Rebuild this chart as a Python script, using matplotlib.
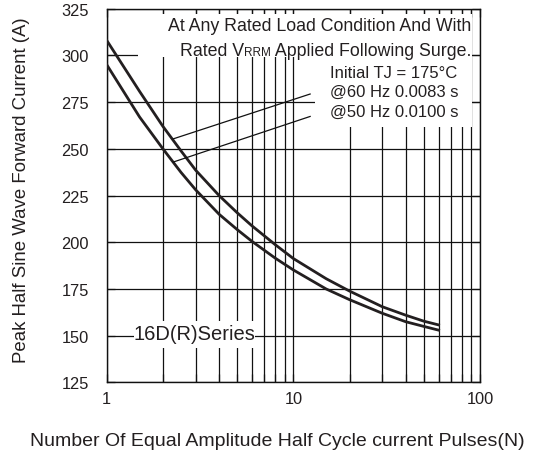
import matplotlib
matplotlib.use("Agg")
import matplotlib.pyplot as plt
from matplotlib.patches import Rectangle
from matplotlib.transforms import blended_transform_factory, IdentityTransform

plt.rcParams["font.family"] = ["Liberation Sans", "DejaVu Sans"]

# surge pulses N and peak forward current (A)
pulses = [1, 1.5, 2, 2.5, 3, 4, 5, 6, 8, 10, 15, 20, 30, 40, 50, 60]
amps_upper = [308, 280.7, 262, 248.9, 238.5, 225, 215.8, 208.8, 198.7, 191.3,
              180.5, 173.9, 165.5, 161, 157.8, 155.8]
amps_lower = [295, 267, 250, 237.4, 228, 215, 206.8, 200.5, 191.5, 185.2,
              175, 169.3, 162, 157.5, 155, 153]

# leader lines from the curves to the note
leader_n = [2.27, 12.3]
leader_60 = [255.3, 279.3]
leader_50 = [242.9, 267.3]

yticks = [125, 150, 175, 200, 225, 250, 275, 300, 325]
xticks = [1, 10, 100]
xticklabels = ["1", "10", "100"]

ink = "#231f20"
grid_c = "#111111"

fig = plt.figure(figsize=(5.42, 4.56), dpi=100)
ax = fig.add_axes([0.1969, 0.159, 0.6887, 0.820])

ax.set_xscale("log")
ax.set_xlim(1, 100)
ax.set_ylim(125, 325)
ax.set_yticks(yticks)
ax.set_xticks(xticks)
ax.set_xticklabels(xticklabels)

ax.grid(which="both", axis="x", color=grid_c, lw=0.9)
ax.grid(which="major", axis="y", color=grid_c, lw=0.9)
ax.tick_params(which="both", direction="in", top=True, right=True,
               length=5.5, width=0.9, color=grid_c, labelsize=11.8,
               labelcolor=ink)
ax.tick_params(axis="y", pad=13)
ax.tick_params(axis="x", pad=6)
for s in ax.spines.values():
    s.set_linewidth(1.0)
    s.set_color(grid_c)

ax.plot(pulses, amps_upper, color=ink, lw=2.0, zorder=3)
ax.plot(pulses, amps_lower, color=ink, lw=2.0, zorder=3)
ax.plot(leader_n, leader_60, color=grid_c, lw=0.9, zorder=3)
ax.plot(leader_n, leader_50, color=grid_c, lw=0.9, zorder=3)

# white panels behind the notes (they cut the grid)
for x0, y0, w, h in [(0.084, 0.870, 0.895, 0.115),
                     (0.558, 0.683, 0.421, 0.187),
                     (0.072, 0.0914, 0.325, 0.0736)]:
    ax.add_patch(Rectangle((x0, y0), w, h, transform=ax.transAxes,
                           facecolor="white", edgecolor="none", zorder=1.8))

note_fs = 12.8
ax.text(0.977, 0.942, "At Any Rated Load Condition And With", transform=ax.transAxes,
        ha="right", va="baseline", fontsize=note_fs, color=ink, zorder=4)

# "Rated VRRM Applied Following Surge." with a small RRM, built right to left
fig.canvas.draw()
r = fig.canvas.get_renderer()
px_axes = blended_transform_factory(IdentityTransform(), ax.transAxes)
t = ax.text(0.977, 0.877, " Applied Following Surge.", transform=ax.transAxes,
            ha="right", va="baseline", fontsize=note_fs, color=ink, zorder=4)
x_left = t.get_window_extent(r).x0
t = ax.text(x_left, 0.877, "RRM", transform=px_axes, ha="right", va="baseline",
            fontsize=note_fs * 0.66, color=ink, zorder=4)
x_left = t.get_window_extent(r).x0
ax.text(x_left, 0.877, "Rated V", transform=px_axes, ha="right", va="baseline",
        fontsize=note_fs, color=ink, zorder=4)

for txt, yb in [("Initial TJ = 175°C", 0.816),
                ("@60 Hz 0.0083 s", 0.766),
                ("@50 Hz 0.0100 s", 0.713)]:
    ax.text(0.598, yb, txt, transform=ax.transAxes, ha="left", va="baseline",
            fontsize=12, color=ink, zorder=4)

ax.text(0.2345, 0.1297, "16D(R)Series", transform=ax.transAxes, ha="center",
        va="center", fontsize=14.5, color=ink, zorder=4)

ax.set_xlabel("Number Of Equal Amplitude Half Cycle current Pulses(N)",
              fontsize=14, color=ink)
ax.xaxis.set_label_coords(0.456, -0.154)
ax.xaxis.label.set_va("center")
ax.set_ylabel("Peak Half Sine Wave Forward Current (A)", fontsize=13.4, color=ink)
ax.yaxis.set_label_coords(-0.227, 0.517)
ax.yaxis.label.set_va("center")

fig.savefig("out.png", dpi=100)
